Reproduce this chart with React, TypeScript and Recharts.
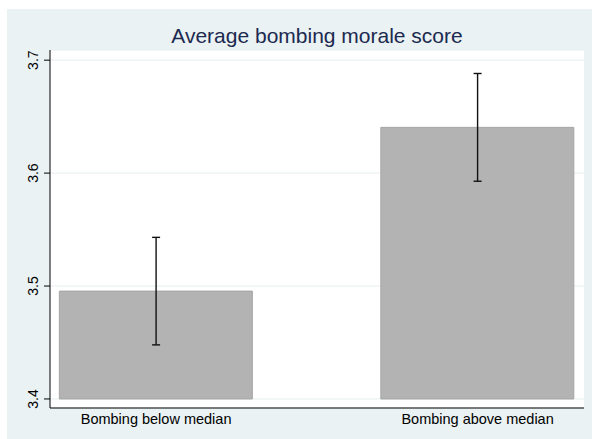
import React from 'react';
import { ComposedChart, Bar, Line, ErrorBar, XAxis, YAxis, CartesianGrid } from 'recharts';

const categories = ['Bombing below median', 'Bombing above median'];
const baseValue = 3.4;
const means = [3.4955, 3.6405];
const ciErrors = [0.0476, 0.0477];
const yTicks = [3.4, 3.5, 3.6, 3.7];
const titleText = 'Average bombing morale score';

const data = categories.map((name, i) => ({
  idx: i,
  name,
  range: [baseValue, means[i]],
  mean: means[i],
  err: ciErrors[i],
}));

const FONT = '"Liberation Sans", Arial, Helvetica, sans-serif';

const YTick = (props: any) => {
  const { x, y, payload } = props;
  return (
    <text
      x={x}
      y={y}
      transform={`rotate(-90, ${x}, ${y})`}
      textAnchor="middle"
      fontFamily={FONT}
      fontSize={14}
      fill="#000"
    >
      {payload.value.toFixed(1)}
    </text>
  );
};

const XTick = (props: any) => {
  const { x, y, payload } = props;
  return (
    <text x={x} y={y} dy={10} textAnchor="middle" fontFamily={FONT} fontSize={14.5} fill="#000">
      {categories[payload.value]}
    </text>
  );
};

export default function App() {
  return (
    <div style={{ position: 'absolute', left: 0, top: 0, width: 592, height: 439, background: '#fff' }}>
      <div style={{ position: 'absolute', left: 7, top: 9, width: 585, height: 430, background: '#eaf2f3' }}>
        <div
          style={{
            position: 'absolute',
            left: 43,
            width: 534,
            top: 16,
            textAlign: 'center',
            fontFamily: FONT,
            fontSize: 21,
            lineHeight: '21px',
            color: '#1c2a50',
            whiteSpace: 'nowrap',
          }}
        >
          {titleText}
        </div>
        <ComposedChart
          width={585}
          height={430}
          data={data}
          margin={{ top: 41, right: 8, bottom: 0, left: 0 }}
        >
          <CartesianGrid vertical={false} fill="#ffffff" stroke="#e6eef0" strokeWidth={1} />
          <XAxis
            dataKey="idx"
            type="number"
            domain={[-0.33, 1.331]}
            allowDataOverflow
            ticks={[0, 1]}
            height={31}
            tickLine={false}
            tickSize={0}
            tickMargin={6}
            axisLine={{ stroke: '#000', strokeWidth: 1 }}
            tick={<XTick />}
            interval={0}
          />
          <YAxis
            type="number"
            domain={[3.392, 3.709]}
            allowDataOverflow
            ticks={yTicks}
            width={43}
            tickSize={6}
            tickMargin={6}
            tickLine={{ stroke: '#000', strokeWidth: 1 }}
            axisLine={{ stroke: '#000', strokeWidth: 1 }}
            tick={<YTick />}
            interval={0}
          />
          <Bar
            dataKey="range"
            barSize={193}
            fill="#b3b3b3"
            stroke="#a6a6a6"
            strokeWidth={1}
            isAnimationActive={false}
          />
          <Line
            dataKey="mean"
            stroke="none"
            dot={false}
            activeDot={false}
            isAnimationActive={false}
          >
            <ErrorBar dataKey="err" direction="y" width={4} stroke="#111" strokeWidth={1.4} />
          </Line>
        </ComposedChart>
      </div>
    </div>
  );
}
